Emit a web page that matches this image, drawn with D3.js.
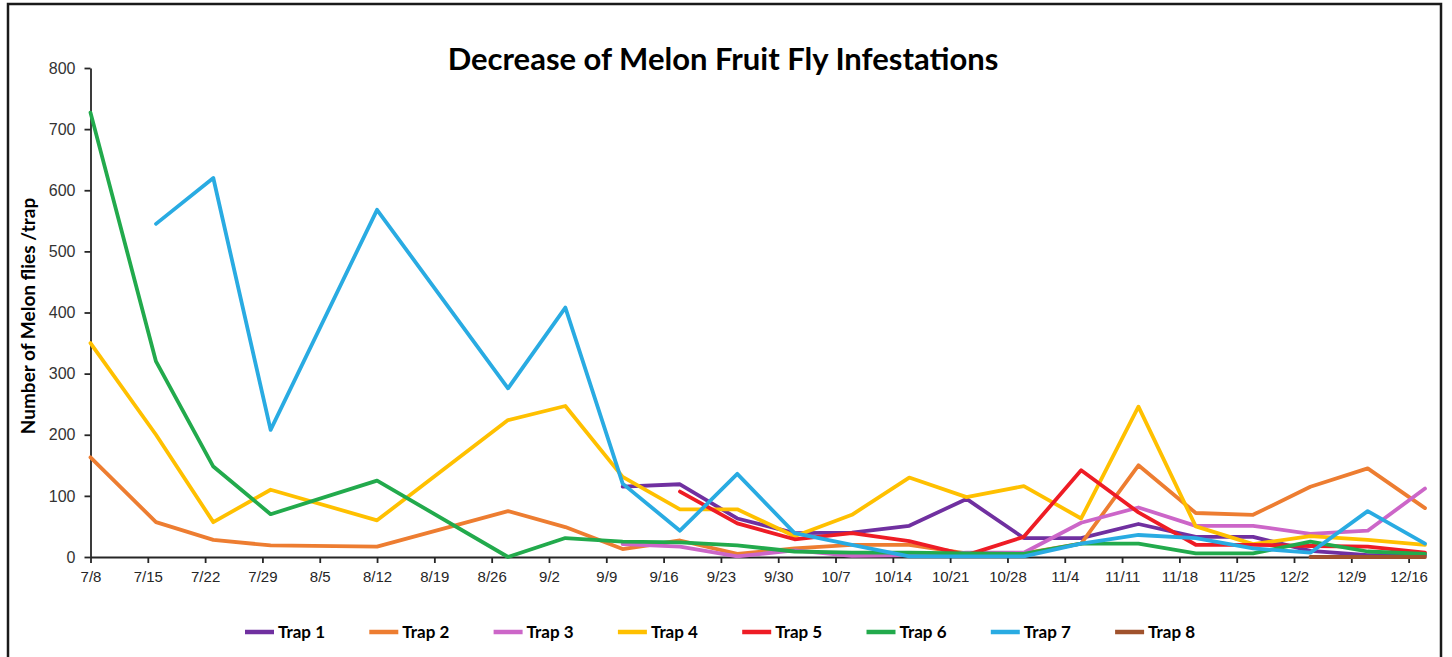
<html>
<head>
<script src="https://d3js.org/d3.v7.min.js"></script>
<style>
  body { margin: 0; background: #fff; }
  svg { font-family: Lato, "Open Sans", sans-serif; }
  .line { fill: none; stroke-width: 3.8; stroke-linejoin: round; stroke-linecap: round; }
  .axis path, .axis line { stroke: #262626; stroke-width: 1.8; }
  .axis text { font-size: 15px; fill: #262626; }
  .y.axis text { font-size: 16px; fill: #333; }
</style>
</head>
<body>
<div id="chart"></div>
<script>
// sampling dates and weekly axis labels
var sampleDates = ["7/8","7/16","7/23","7/30","8/12","8/28","9/4","9/11","9/18","9/25","10/2",
  "10/9","10/16","10/23","10/30","11/6","11/13","11/20","11/27","12/4","12/11","12/18"];
var weekTicks = ["7/8","7/15","7/22","7/29","8/5","8/12","8/19","8/26","9/2","9/9","9/16","9/23",
  "9/30","10/7","10/14","10/21","10/28","11/4","11/11","11/18","11/25","12/2","12/9","12/16"];
var yTicks = [0, 100, 200, 300, 400, 500, 600, 700, 800];

var n = null;
var trap1 = [n,n,n,n,n,n,n,115,119,63,39,40,51,95,31,31,54,33,33,10,3,3];
var trap2 = [163,57,28,19,17,75,49,13,27,5,14,20,20,6,6,22,150,72,69,115,145,80];
var trap3 = [n,n,n,n,n,n,n,21,17,1,11,2,3,7,7,56,81,51,51,38,43,112];
var trap4 = [350,200,57,110,60,224,247,131,78,78,34,69,130,98,116,63,246,50,21,34,28,20];
var trap5 = [n,n,n,n,n,n,n,n,107,55,29,39,26,3,33,142,73,20,20,18,17,7];
var trap6 = [727,320,148,70,125,0,31,25,24,19,9,7,7,6,5,22,22,6,6,25,9,5];
var trap7 = [n,545,620,208,568,276,408,120,43,136,39,20,1,1,1,22,36,31,14,7,75,22];
var trap8 = [n,n,n,n,n,n,n,n,n,n,n,n,n,n,n,n,n,n,n,0,0,0];

var names = ["Trap 1","Trap 2","Trap 3","Trap 4","Trap 5","Trap 6","Trap 7","Trap 8"];
var colors = ["#7030A0","#ED7D31","#CC66C8","#FFC000","#EE1C25","#22AA4C","#29ABE2","#A0522D"];

var parse = d3.timeParse("%m/%d");
var series = [trap1, trap2, trap3, trap4, trap5, trap6, trap7, trap8].map(function(vals, i) {
  return {
    name: names[i],
    values: vals.map(function(v, j) { return {date: parse(sampleDates[j]), v: v}; })
  };
});

var width = 1452, height = 657;

var svg = d3.select("#chart").append("svg")
  .attr("width", width).attr("height", height);

// outer frame
svg.append("rect")
  .attr("x", 8).attr("y", 4).attr("width", 1433).attr("height", 680)
  .attr("fill", "none").attr("stroke", "#1a1a1a").attr("stroke-width", 2.5);

var x = d3.scaleTime()
  .domain([parse("7/8"), parse("12/18")])
  .range([90.5, 1425]);

var y = d3.scaleLinear()
  .domain([0, 800])
  .range([557, 68]);

svg.append("text")
  .attr("x", 723).attr("y", 70)
  .attr("text-anchor", "middle")
  .style("font-size", "31px").style("font-weight", "bold")
  .text("Decrease of Melon Fruit Fly Infestations");

var xAxis = d3.axisBottom(x)
  .tickValues(weekTicks.map(parse))
  .tickFormat(d3.timeFormat("%-m/%-d"))
  .tickSize(6).tickSizeOuter(0).tickPadding(8);

svg.append("g")
  .attr("class", "x axis")
  .attr("transform", "translate(0," + y(0) + ")")
  .call(xAxis);

var yAxis = d3.axisLeft(y).tickValues(yTicks).tickSize(6).tickSizeOuter(0).tickPadding(9);

svg.append("g")
  .attr("class", "y axis")
  .attr("transform", "translate(" + x.range()[0] + ",0)")
  .call(yAxis);

svg.append("text")
  .attr("transform", "translate(35,316) rotate(-90)")
  .attr("text-anchor", "middle")
  .style("font-size", "19px").style("font-weight", "bold")
  .text("Number of Melon flies /trap");

var line = d3.line()
  .defined(function(d) { return d.v != null; })
  .x(function(d) { return x(d.date); })
  .y(function(d) { return y(d.v); });

svg.append("g").selectAll(".line")
  .data(series).enter()
  .append("path")
  .attr("class", "line")
  .attr("d", function(d) { return line(d.values); })
  .style("stroke", function(d, i) { return colors[i]; });

// legend
var legend = svg.selectAll(".lineLegend").data(names)
  .enter().append("g")
  .attr("class", "lineLegend")
  .attr("transform", function(d, i) { return "translate(" + (245 + i * 124.3) + ",632)"; });

legend.append("line")
  .attr("x1", 0).attr("x2", 29).attr("y1", 0).attr("y2", 0)
  .attr("stroke", function(d, i) { return colors[i]; })
  .attr("stroke-width", 4.5);

legend.append("text")
  .attr("x", 33).attr("y", 6)
  .style("font-size", "17px").style("font-weight", "bold")
  .text(function(d) { return d; });
</script>
</body>
</html>
